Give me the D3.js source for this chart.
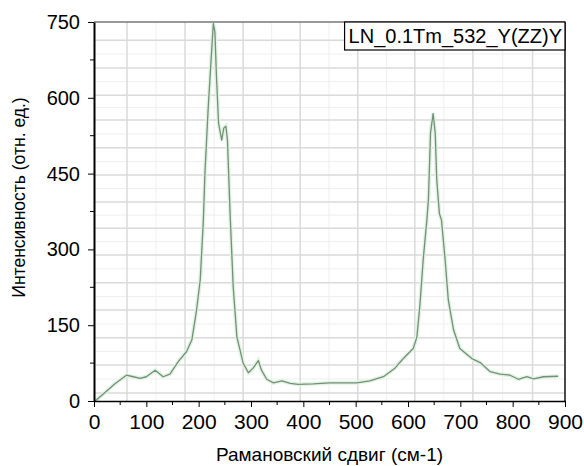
<!DOCTYPE html>
<html>
<head>
<meta charset="utf-8">
<script src="https://cdn.jsdelivr.net/npm/d3@7"></script>
<style>
  body { margin: 0; background: #fff; }
  svg { font-family: "Liberation Sans", Arial, sans-serif; }
</style>
</head>
<body>
<svg id="chart" width="584" height="466"></svg>
<script>
// --- Dữ liệu phổ Raman ---
const shift = [2, 20, 40, 62, 75, 88, 100, 117, 132, 145, 161, 177, 187, 196, 203, 209, 212, 218, 223, 228, 231, 234, 238, 244, 248, 252, 255, 260, 266, 273, 285, 295, 304, 314, 320, 330, 343, 359, 375, 390, 419, 451, 502, 527, 553, 575, 591, 610, 617, 623, 629, 636, 639, 643, 648, 652, 655, 660, 664, 671, 677, 687, 699, 722, 738, 757, 776, 795, 811, 827, 840, 859, 887];
const intensity = [0, 16, 34, 51, 48, 45, 48, 61, 48, 53, 78, 98, 121, 180, 240, 358, 451, 576, 662, 747, 731, 642, 550, 516, 540, 544, 516, 372, 226, 127, 75, 56, 65, 80, 61, 43, 36, 40, 35, 33, 34, 36, 36, 40, 48, 65, 84, 104, 127, 193, 279, 358, 398, 530, 569, 530, 437, 371, 358, 279, 200, 141, 104, 84, 76, 58, 53, 51, 43, 48, 44, 48, 49];

const xTicks = [0, 100, 200, 300, 400, 500, 600, 700, 800, 900];
const yTicks = [0, 150, 300, 450, 600, 750];
// lưới nền (không trùng vạch chia)
const gridX = [63, 174, 285, 394, 504, 613, 724, 838];
const gridY = [16, 71, 125, 180, 234, 289, 342, 394, 447, 501, 556, 605, 659, 714];
const legendText = "LN_0.1Tm_532_Y(ZZ)Y";

const data = shift.map((s, i) => ({ x: s, y: intensity[i] }));

const svg = d3.select("#chart");
const margin = { left: 94, top: 22, right: 19, bottom: 65 };
const W = 584 - margin.left - margin.right,
      H = 466 - margin.top - margin.bottom;

const x = d3.scaleLinear().domain([0, 900]).range([0, W]);
const y = d3.scaleLinear().domain([0, 750]).range([H, 0]);

const g = svg.append("g").attr("transform", `translate(${margin.left},${margin.top})`);

// Lưới phụ (mờ)
const minorX = gridX.slice(0, -1).map((d, i) => (d + gridX[i + 1]) / 2);
const minorY = gridY.slice(0, -1).map((d, i) => (d + gridY[i + 1]) / 2);
g.selectAll("line.mx").data(minorX).enter().append("line")
  .attr("x1", d => x(d)).attr("x2", d => x(d)).attr("y1", 0).attr("y2", H)
  .attr("stroke", "#efefef").attr("stroke-width", 1);
g.selectAll("line.my").data(minorY).enter().append("line")
  .attr("y1", d => y(d)).attr("y2", d => y(d)).attr("x1", 0).attr("x2", W)
  .attr("stroke", "#efefef").attr("stroke-width", 1);

// Lưới chính
g.selectAll("line.gx").data(gridX).enter().append("line")
  .attr("x1", d => x(d)).attr("x2", d => x(d)).attr("y1", 0).attr("y2", H)
  .attr("stroke", "#dadada").attr("stroke-width", 1.5);
g.selectAll("line.gy").data(gridY).enter().append("line")
  .attr("y1", d => y(d)).attr("y2", d => y(d)).attr("x1", 0).attr("x2", W)
  .attr("stroke", "#dadada").attr("stroke-width", 1.5);

// Đường phổ
const line = d3.line().x(d => x(d.x)).y(d => y(d.y));
g.append("path").datum(data)
  .attr("fill", "none").attr("stroke", "#e2f3e2").attr("stroke-width", 4)
  .attr("d", line);
g.append("path").datum(data)
  .attr("fill", "none").attr("stroke", "#73907a").attr("stroke-width", 1.3)
  .attr("stroke-linejoin", "round")
  .attr("d", line);

// Khung trên/phải
g.append("line").attr("x1", 0).attr("x2", W).attr("y1", 0).attr("y2", 0)
  .attr("stroke", "#777").attr("stroke-width", 1.5);
g.append("line").attr("x1", W).attr("x2", W).attr("y1", 0).attr("y2", H)
  .attr("stroke", "#111").attr("stroke-width", 1.5);

// Trục X
const minorXT = d3.range(50, 900, 100);
const xAxis = g.append("g").attr("transform", `translate(0,${H})`);
xAxis.call(d3.axisBottom(x).tickValues(xTicks).tickSize(6).tickSizeOuter(0).tickPadding(7));
xAxis.selectAll("line.minor").data(minorXT).enter().append("line")
  .attr("x1", d => x(d)).attr("x2", d => x(d)).attr("y1", 0).attr("y2", 4)
  .attr("stroke", "#000");
xAxis.selectAll("text").style("font-size", "21px");
xAxis.select(".domain").attr("stroke-width", 1.5);

// Trục Y
const minorYT = d3.range(75, 750, 150);
const yAxis = g.append("g");
yAxis.call(d3.axisLeft(y).tickValues(yTicks).tickSize(6).tickSizeOuter(0).tickPadding(8));
yAxis.selectAll("line.minor").data(minorYT).enter().append("line")
  .attr("y1", d => y(d)).attr("y2", d => y(d)).attr("x1", 0).attr("x2", -4)
  .attr("stroke", "#000");
yAxis.selectAll("text").style("font-size", "20px");
yAxis.select(".domain").attr("stroke-width", 2);

// Chú thích
const lg = g.append("g");
const lt = lg.append("text")
  .attr("x", W - 3).attr("y", 21)
  .attr("text-anchor", "end")
  .style("font-size", "20px")
  .text(legendText);
const bb = lt.node().getBBox();
lg.insert("rect", "text")
  .attr("x", bb.x - 4).attr("y", 0)
  .attr("width", W - bb.x + 4).attr("height", 28)
  .attr("fill", "#fff").attr("stroke", "#000").attr("stroke-width", 1.2);

// Tiêu đề trục
svg.append("text")
  .attr("transform", `translate(25,${margin.top + H / 2 - 14}) rotate(-90)`)
  .attr("text-anchor", "middle")
  .style("font-size", "17.5px")
  .text("Интенсивность (отн. ед.)");
svg.append("text")
  .attr("x", margin.left + W / 2).attr("y", 461)
  .attr("text-anchor", "middle")
  .style("font-size", "19px")
  .text("Рамановский сдвиг (см-1)");
</script>
</body>
</html>
